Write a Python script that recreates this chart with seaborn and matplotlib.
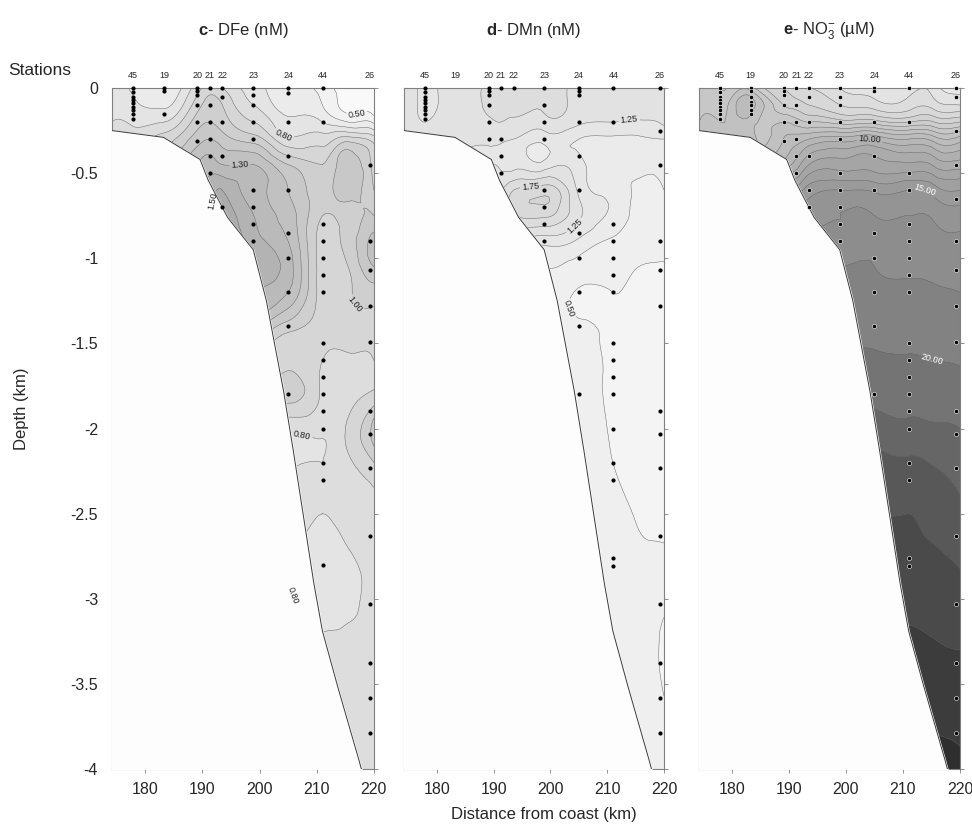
import numpy as np
import pandas as pd
import seaborn as sns
import matplotlib.pyplot as plt
import matplotlib.tri as mtri

# Stations along the section (distance from coast in km)
stations = ['45', '19', '20', '21', '22', '23', '24', '44', '26']
station_km = [177.9, 183.3, 189.1, 191.3, 193.5, 198.9, 205.0, 211.1, 219.3]

# bottle depths (km) for each station, same order as stations
fe_bottles = [
    [0, -0.025, -0.05, -0.07, -0.09, -0.11, -0.13, -0.155, -0.18],
    [0, -0.02, -0.15],
    [0, -0.02, -0.04, -0.1, -0.2, -0.31],
    [0, -0.1, -0.2, -0.3, -0.4, -0.5],
    [0, -0.05, -0.2, -0.4, -0.7],
    [0, -0.04, -0.1, -0.2, -0.3, -0.6, -0.7, -0.8, -0.9],
    [0, -0.03, -0.2, -0.4, -0.6, -0.85, -1.0, -1.2, -1.4, -1.8],
    [0, -0.2, -0.8, -0.9, -1.0, -1.1, -1.2, -1.5, -1.6, -1.7, -1.8, -1.9, -2.0, -2.2, -2.3, -2.8],
    [-0.45, -0.9, -1.07, -1.28, -1.49, -1.9, -2.03, -2.23, -2.63, -3.03, -3.38, -3.58, -3.79],
]
mn_bottles = [
    [0, -0.025, -0.05, -0.07, -0.09, -0.11, -0.13, -0.155, -0.18],
    [],
    [0, -0.02, -0.04, -0.1, -0.2, -0.3],
    [0, -0.3, -0.4, -0.5],
    [0],
    [0, -0.1, -0.2, -0.3, -0.6, -0.7, -0.8, -0.9],
    [0, -0.02, -0.04, -0.2, -0.4, -0.6, -0.85, -1.0, -1.2, -1.4, -1.8],
    [0, -0.2, -0.8, -0.9, -1.0, -1.1, -1.2, -1.5, -1.6, -1.7, -1.8, -2.0, -2.2, -2.3, -2.76, -2.81],
    [0, -0.25, -0.45, -0.9, -1.07, -1.28, -1.9, -2.03, -2.23, -2.63, -3.03, -3.38, -3.58, -3.79],
]
no3_bottles = [
    [0, -0.025, -0.05, -0.07, -0.09, -0.11, -0.13, -0.155, -0.18],
    [0, -0.02, -0.05, -0.08, -0.1, -0.13, -0.15],
    [0, -0.02, -0.04, -0.1, -0.2, -0.31],
    [0, -0.1, -0.2, -0.3, -0.4, -0.5],
    [0, -0.05, -0.2, -0.4, -0.6, -0.7],
    [0, -0.05, -0.1, -0.2, -0.3, -0.5, -0.6, -0.7, -0.8, -0.9],
    [0, -0.02, -0.2, -0.4, -0.6, -0.85, -1.0, -1.2, -1.4, -1.8],
    [0, -0.2, -0.5, -0.6, -0.8, -0.9, -1.0, -1.1, -1.2, -1.5, -1.6, -1.7, -1.8, -1.9, -2.0, -2.2, -2.3, -2.76, -2.81],
    [0, -0.05, -0.25, -0.45, -0.65, -0.9, -1.07, -1.28, -1.49, -1.9, -2.03, -2.23, -2.63, -3.03, -3.38, -3.58, -3.79],
]

# seafloor profile
bottom_km = [174.2, 183.2, 189.6, 191.0, 194.4, 198.9, 201.2, 204.2, 205.9, 207.7, 209.5, 211.0, 213.7, 217.4, 217.8]
bottom_depth = [-0.25, -0.29, -0.42, -0.54, -0.76, -0.95, -1.25, -1.78, -2.13, -2.52, -2.91, -3.19, -3.52, -3.95, -4.0]

# gridded section values (rows = depth, columns = distance)
grid_km = [174.2, 178.0, 183.3, 189.0, 191.3, 193.5, 199.0, 205.0, 211.0, 215.5, 220.0]
grid_depth = [0, -0.1, -0.2, -0.3, -0.45, -0.6, -0.75, -0.9, -1.05, -1.2,
              -1.4, -1.6, -1.8, -2.0, -2.2, -2.5, -2.9, -3.3, -3.7, -4.0]

dfe = [
    [0.72, 0.68, 0.62, 0.85, 0.95, 0.90, 0.75, 0.60, 0.55, 0.48, 0.42],
    [0.75, 0.72, 0.68, 0.95, 1.05, 1.00, 0.80, 0.65, 0.60, 0.47, 0.43],
    [0.80, 0.78, 0.80, 1.05, 1.10, 1.05, 0.90, 0.72, 0.70, 0.60, 0.58],
    [0.85, 0.85, 0.95, 1.15, 1.20, 1.15, 1.05, 0.82, 0.85, 0.95, 0.85],
    [1.00, 1.05, 1.15, 1.30, 1.35, 1.30, 1.30, 1.10, 1.00, 1.15, 0.95],
    [1.40, 1.40, 1.40, 1.40, 1.45, 1.50, 1.35, 1.20, 1.05, 1.15, 1.00],
    [1.50, 1.50, 1.50, 1.50, 1.50, 1.55, 1.40, 1.25, 1.00, 1.05, 1.10],
    [1.55, 1.55, 1.55, 1.55, 1.55, 1.60, 1.45, 1.30, 0.95, 1.05, 1.25],
    [1.50, 1.50, 1.50, 1.50, 1.50, 1.50, 1.50, 1.35, 0.95, 1.00, 1.20],
    [1.40, 1.40, 1.40, 1.40, 1.40, 1.40, 1.40, 1.30, 0.95, 0.98, 1.05],
    [1.25, 1.25, 1.25, 1.25, 1.25, 1.25, 1.25, 1.05, 0.95, 0.95, 0.95],
    [0.95, 0.95, 0.95, 0.95, 0.95, 0.95, 0.95, 0.95, 0.90, 0.88, 0.90],
    [1.05, 1.05, 1.05, 1.05, 1.05, 1.05, 1.05, 1.05, 0.88, 0.85, 0.92],
    [0.85, 0.85, 0.85, 0.85, 0.85, 0.85, 0.85, 0.82, 0.82, 0.92, 1.15],
    [0.80, 0.80, 0.80, 0.80, 0.80, 0.80, 0.80, 0.78, 0.80, 0.88, 1.00],
    [0.82, 0.82, 0.82, 0.82, 0.82, 0.82, 0.82, 0.82, 0.80, 0.83, 0.85],
    [0.80, 0.80, 0.80, 0.80, 0.80, 0.80, 0.80, 0.80, 0.75, 0.78, 0.82],
    [0.82, 0.82, 0.82, 0.82, 0.82, 0.82, 0.82, 0.82, 0.82, 0.82, 0.82],
    [0.82, 0.82, 0.82, 0.82, 0.82, 0.82, 0.82, 0.82, 0.82, 0.82, 0.82],
    [0.82, 0.82, 0.82, 0.82, 0.82, 0.82, 0.82, 0.82, 0.82, 0.82, 0.82],
]

dmn = [
    [1.35, 1.20, 1.35, 1.55, 1.60, 1.60, 1.55, 1.40, 1.35, 1.35, 1.35],
    [1.35, 1.20, 1.35, 1.55, 1.60, 1.60, 1.55, 1.40, 1.35, 1.35, 1.35],
    [1.40, 1.25, 1.40, 1.45, 1.50, 1.45, 1.40, 1.30, 1.25, 1.22, 1.30],
    [1.40, 1.35, 1.35, 1.30, 1.30, 1.25, 1.10, 1.00, 0.95, 0.95, 1.00],
    [1.30, 1.30, 1.30, 1.25, 1.20, 1.15, 1.10, 1.10, 0.80, 0.80, 0.85],
    [1.50, 1.50, 1.50, 1.50, 1.50, 1.75, 1.90, 1.20, 0.90, 0.70, 0.75],
    [1.50, 1.50, 1.50, 1.50, 1.50, 1.70, 1.80, 1.30, 0.95, 0.65, 0.70],
    [1.10, 1.10, 1.10, 1.10, 1.10, 1.20, 1.10, 0.95, 0.70, 0.60, 0.60],
    [0.75, 0.75, 0.75, 0.75, 0.75, 0.75, 0.75, 0.65, 0.55, 0.50, 0.48],
    [0.60, 0.60, 0.60, 0.60, 0.60, 0.60, 0.60, 0.48, 0.50, 0.45, 0.45],
    [0.55, 0.55, 0.55, 0.55, 0.55, 0.55, 0.55, 0.53, 0.47, 0.45, 0.45],
    [0.55, 0.55, 0.55, 0.55, 0.55, 0.55, 0.55, 0.55, 0.48, 0.45, 0.45],
    [0.55, 0.55, 0.55, 0.55, 0.55, 0.55, 0.55, 0.55, 0.48, 0.45, 0.45],
    [0.55, 0.55, 0.55, 0.55, 0.55, 0.55, 0.55, 0.55, 0.49, 0.46, 0.45],
    [0.55, 0.55, 0.55, 0.55, 0.55, 0.55, 0.55, 0.55, 0.50, 0.47, 0.45],
    [0.55, 0.55, 0.55, 0.55, 0.55, 0.55, 0.55, 0.55, 0.53, 0.49, 0.47],
    [0.55, 0.55, 0.55, 0.55, 0.55, 0.55, 0.55, 0.55, 0.55, 0.53, 0.52],
    [0.55, 0.55, 0.55, 0.55, 0.55, 0.55, 0.55, 0.55, 0.55, 0.55, 0.48],
    [0.55, 0.55, 0.55, 0.55, 0.55, 0.55, 0.55, 0.55, 0.55, 0.58, 0.52],
    [0.55, 0.55, 0.55, 0.55, 0.55, 0.55, 0.55, 0.55, 0.55, 0.62, 0.55],
]

no3 = [
    [6.0, 6.0, 6.5, 4.0, 3.5, 3.0, 2.0, 1.5, 1.5, 1.5, 0.5],
    [6.5, 6.5, 8.5, 5.0, 4.5, 4.0, 3.0, 2.5, 2.5, 2.5, 2.0],
    [7.0, 7.0, 7.5, 7.0, 6.5, 6.0, 5.5, 5.5, 5.0, 5.0, 5.0],
    [7.5, 7.5, 7.5, 8.0, 8.5, 9.0, 9.5, 9.8, 9.0, 8.5, 8.5],
    [9.0, 9.0, 9.0, 9.5, 10.5, 12.0, 12.5, 12.5, 12.2, 11.8, 11.5],
    [13.5, 13.5, 13.5, 13.5, 13.5, 14.5, 15.0, 14.8, 15.0, 14.5, 14.0],
    [15.5, 15.5, 15.5, 15.5, 15.5, 15.5, 16.0, 16.0, 16.0, 15.8, 15.5],
    [16.5, 16.5, 16.5, 16.5, 16.5, 16.5, 16.5, 17.0, 16.8, 16.5, 16.3],
    [17.5, 17.5, 17.5, 17.5, 17.5, 17.5, 17.5, 17.5, 17.2, 17.0, 16.8],
    [18.2, 18.2, 18.2, 18.2, 18.2, 18.2, 18.2, 18.2, 18.0, 17.8, 17.5],
    [19.2, 19.2, 19.2, 19.2, 19.2, 19.2, 19.2, 19.2, 19.0, 18.8, 18.5],
    [20.5, 20.5, 20.5, 20.5, 20.5, 20.5, 20.5, 20.5, 20.3, 20.0, 19.8],
    [22.0, 22.0, 22.0, 22.0, 22.0, 22.0, 22.0, 22.0, 21.8, 21.5, 21.0],
    [23.5, 23.5, 23.5, 23.5, 23.5, 23.5, 23.5, 23.5, 23.0, 22.8, 22.5],
    [26.0, 26.0, 26.0, 26.0, 26.0, 26.0, 26.0, 26.0, 25.5, 24.8, 24.0],
    [27.5, 27.5, 27.5, 27.5, 27.5, 27.5, 27.5, 27.5, 27.5, 26.5, 25.5],
    [29.0, 29.0, 29.0, 29.0, 29.0, 29.0, 29.0, 29.0, 29.0, 28.8, 28.0],
    [30.5, 30.5, 30.5, 30.5, 30.5, 30.5, 30.5, 30.5, 30.5, 30.2, 30.0],
    [32.0, 32.0, 32.0, 32.0, 32.0, 32.0, 32.0, 32.0, 32.0, 32.0, 31.8],
    [33.5, 33.5, 33.5, 33.5, 33.5, 33.5, 33.5, 33.5, 33.5, 33.5, 33.0],
]

dfe_levels = [0.3, 0.4, 0.5, 0.6, 0.7, 0.8, 0.9, 1.0, 1.1, 1.2, 1.3, 1.4, 1.5, 1.6, 1.7, 1.8]
dmn_levels = [0.0, 0.25, 0.5, 0.75, 1.0, 1.25, 1.5, 1.75, 2.0, 2.25]
no3_levels = [0, 1, 2, 3, 4, 5, 6, 7, 8, 9, 10, 11, 12, 13, 14, 15, 16,
              17.5, 20, 22.5, 25, 27.5, 30, 32.5, 35]

sns.set_theme(style='white')
plt.rcParams['font.family'] = ['Liberation Sans', 'DejaVu Sans']
plt.rcParams['mathtext.fontset'] = 'custom'
plt.rcParams['mathtext.rm'] = 'Liberation Sans'
plt.rcParams['mathtext.bf'] = 'Liberation Sans:bold'
plt.rcParams['axes.unicode_minus'] = False

fig = plt.figure(figsize=(9.72, 8.35), dpi=100)
lefts = [0.1152, 0.4156, 0.7191]
widths = [0.2695, 0.2675, 0.2685]

panels = [
    dict(z=dfe, levels=dfe_levels, vmin=0.357, vmax=4.0, bottles=fe_bottles,
         title=r'$\mathbf{c}$- DFe (nM)', lab_levels=[0.5, 0.8, 1.0, 1.3, 1.5],
         lab_pos=[(217.0, -0.15), (204.0, -0.3), (196.5, -0.44), (193.0, -0.67),
                  (215.0, -1.3), (207.5, -2.02), (211.5, -2.9)],
         lab_colors='#222222', edge='black'),
    dict(z=dmn, levels=dmn_levels, vmin=-0.28, vmax=13.9, bottles=mn_bottles,
         title=r'$\mathbf{d}$- DMn (nM)', lab_levels=[0.5, 1.25, 1.75],
         lab_pos=[(214.0, -0.22), (196.6, -0.64), (204.0, -0.8), (203.0, -1.3)],
         lab_colors='#222222', edge='black'),
    dict(z=no3, levels=no3_levels, vmin=-3.57, vmax=41.96, bottles=no3_bottles,
         title=r'$\mathbf{e}$- NO$_3^{-}$ (µM)', lab_levels=[10, 15, 20],
         lab_pos=[(204.2, -0.32), (213.8, -0.59), (215.0, -1.6)],
         lab_colors=['#222222', 'white', 'white'], edge='white'),
]

kk, dd = np.meshgrid(grid_km, grid_depth)
tri = mtri.Triangulation(kk.ravel(), dd.ravel())
refiner = mtri.UniformTriRefiner(tri)

for i, p in enumerate(panels):
    ax = fig.add_axes([lefts[i], 0.079, widths[i], 0.8156])
    z = np.asarray(p['z'], dtype=float).ravel()
    tri_f, z_f = refiner.refine_field(z, subdiv=3)

    ax.tricontourf(tri_f, z_f, levels=p['levels'], cmap='gray_r',
                   vmin=p['vmin'], vmax=p['vmax'], extend='both', zorder=1)
    plain = [lv for lv in p['levels'] if lv not in p['lab_levels']]
    ax.tricontour(tri_f, z_f, levels=plain, colors='#6a6a6a',
                  linewidths=0.35, zorder=2)
    # labelled isolines in their own set so clabel only sees those levels
    cs = ax.tricontour(tri_f, z_f, levels=p['lab_levels'], colors='#6a6a6a',
                       linewidths=0.35, zorder=2)
    ax.clabel(cs, manual=p['lab_pos'], fmt='%1.2f', fontsize=6.5,
              inline=True, inline_spacing=2, colors=p['lab_colors'])

    # seafloor mask
    ax.fill_between(bottom_km, bottom_depth, -4.5, color='#fcfdfc', zorder=3)
    ax.plot(bottom_km, bottom_depth, color='#3a3a3a', lw=0.7, zorder=3)

    rows = [(km, d) for km, ds in zip(station_km, p['bottles']) for d in ds]
    df = pd.DataFrame(rows, columns=['km', 'depth'])
    sns.scatterplot(data=df, x='km', y='depth', ax=ax, color='black', s=9,
                    edgecolor=p['edge'], linewidth=0.4 if p['edge'] == 'white' else 0,
                    legend=False, zorder=5, clip_on=False)

    for name, km in zip(stations, station_km):
        ax.text(km, 1.012, name, transform=ax.get_xaxis_transform(),
                ha='center', va='bottom', fontsize=6.5)

    ax.text(0.5, 1.085, p['title'], transform=ax.transAxes, ha='center',
            va='center', fontsize=12)

    ax.set_xlim(174.2, 220)
    ax.set_ylim(-4, 0)
    ax.set_xticks([180, 190, 200, 210, 220])
    ax.set_yticks([0, -0.5, -1, -1.5, -2, -2.5, -3, -3.5, -4])
    ax.set_xlabel('')
    ax.set_ylabel('')
    ax.tick_params(axis='x', bottom=True, length=3, width=0.6, color='#808080',
                   labelsize=11.5, pad=6)
    ax.tick_params(axis='y', left=False, right=True, length=3, width=0.6,
                   color='#808080', labelsize=11.5, pad=7,
                   labelleft=(i == 0), labelright=False)
    if i == 0:
        ax.set_yticklabels([f'{v:g}' for v in ax.get_yticks()])
    for sp in ax.spines.values():
        sp.set_color('#808080')
        sp.set_linewidth(0.8)

fig.text(0.008, 0.916, 'Stations', fontsize=12.5, va='center', ha='left')
fig.text(0.022, 0.51, 'Depth (km)', rotation=90, fontsize=12, va='center', ha='center')
fig.text(0.56, 0.024, 'Distance from coast (km)', fontsize=12, va='center', ha='center')

fig.savefig('out.png', dpi=100)
